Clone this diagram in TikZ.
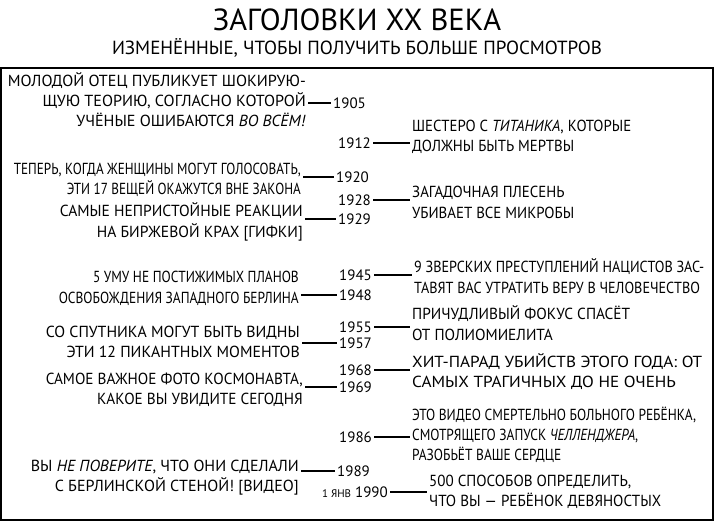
\documentclass[tikz,border=0pt]{standalone}
\usepackage{fontspec}
\usepackage{graphicx}
\setmainfont{PT Sans}
\usetikzlibrary{positioning,calc}
% sorok adott szelessegre, magassag marad
\newcommand{\sorok}[3]{\resizebox{#2pt}{\height}{\begin{tabular}{@{}#1@{}}#3\end{tabular}}}
\tikzset{
  bal/.style={anchor=east,inner sep=2pt,font=\fontsize{16}{20}\selectfont},
  jobb/.style={anchor=west,inner sep=2pt,font=\fontsize{16}{20}\selectfont},
  ev/.style={anchor=west,inner sep=2pt,font=\fontsize{15}{16}\selectfont},
  kot/.style={line width=1.1pt},
}

\begin{document}
\begin{tikzpicture}[x=1pt,y=-1pt]
  \useasboundingbox (0,0) rectangle (714,521);
  \draw[line width=2pt] (1,68) rectangle (713,520);
  % cim
  \node (cim) at (357,20) {\fontsize{30.5}{32}\selectfont ЗАГОЛОВКИ XX ВЕКА};
  \node (alcim) at (357,48) {\fontsize{19}{22}\selectfont ИЗМЕНЁННЫЕ, ЧТОБЫ ПОЛУЧИТЬ БОЛЬШЕ ПРОСМОТРОВ};
  % evszamok
  \node[ev] (e1905) at (331,103) {1905};
  \node[ev] (e1912) at (336,143) {1912};
  \node[ev] (e1920) at (334,177) {1920};
  \node[ev] (e1928) at (336,200) {1928};
  \node[ev] (e1929) at (336,219) {1929};
  \node[ev] (e1945) at (337,275) {1945};
  \node[ev] (e1948) at (337,295) {1948};
  \node[ev] (e1955) at (337,327) {1955};
  \node[ev] (e1957) at (337,343) {1957};
  \node[ev] (e1968) at (337,370) {1968};
  \node[ev] (e1969) at (337,387) {1969};
  \node[ev] (e1986) at (337,437) {1986};
  \node[ev] (e1989) at (335,471) {1989};
  \node[ev,anchor=east] (e1990) at (390,492) {{\fontsize{11}{12}\selectfont 1 ЯНВ} 1990};
  % bal oldal
  \node[bal] (b1905) at (308,103) {\sorok{r}{298}{МОЛОДОЙ ОТЕЦ ПУБЛИКУЕТ ШОКИРУЮ-\\ЩУЮ ТЕОРИЮ, СОГЛАСНО КОТОРОЙ\\УЧЁНЫЕ ОШИБАЮТСЯ \textit{ВО ВСЁМ!}}};
  \node[bal] (b1920) at (303,181) {\sorok{r}{287}{ТЕПЕРЬ, КОГДА ЖЕНЩИНЫ МОГУТ ГОЛОСОВАТЬ,\\ЭТИ 17 ВЕЩЕЙ ОКАЖУТСЯ ВНЕ ЗАКОНА}};
  \node[bal] (b1929) at (305,223) {\sorok{r}{243}{САМЫЕ НЕПРИСТОЙНЫЕ РЕАКЦИИ\\НА БИРЖЕВОЙ КРАХ [ГИФКИ]}};
  \node[bal] (b1948) at (301,289) {\sorok{r}{240}{5 УМУ НЕ ПОСТИЖИМЫХ ПЛАНОВ\\ОСВОБОЖДЕНИЯ ЗАПАДНОГО БЕРЛИНА}};
  \node[bal] (b1957) at (302,343) {\sorok{r}{254}{СО СПУТНИКА МОГУТ БЫТЬ ВИДНЫ\\ЭТИ 12 ПИКАНТНЫХ МОМЕНТОВ}};
  \node[bal] (b1969) at (305,390) {\sorok{r}{257}{САМОЕ ВАЖНОЕ ФОТО КОСМОНАВТА,\\КАКОЕ ВЫ УВИДИТЕ СЕГОДНЯ}};
  \node[bal] (b1989) at (301,477) {\sorok{r}{268}{ВЫ \textit{НЕ ПОВЕРИТЕ}, ЧТО ОНИ СДЕЛАЛИ\\С БЕРЛИНСКОЙ СТЕНОЙ! [ВИДЕО]}};
  % jobb oldal
  \node[jobb] (j1912) at (410,138) {\sorok{l}{219}{ШЕСТЕРО С \textit{ТИТАНИКА}, КОТОРЫЕ\\ДОЛЖНЫ БЫТЬ МЕРТВЫ}};
  \node[jobb] (j1928) at (410,204) {\sorok{l}{162}{ЗАГАДОЧНАЯ ПЛЕСЕНЬ\\УБИВАЕТ ВСЕ МИКРОБЫ}};
  \node[jobb] (j1945) at (412,279) {\sorok{l}{290}{9 ЗВЕРСКИХ ПРЕСТУПЛЕНИЙ НАЦИСТОВ ЗАС-\\ТАВЯТ ВАС УТРАТИТЬ ВЕРУ В ЧЕЛОВЕЧЕСТВО}};
  \node[jobb] (j1955) at (410,326) {\sorok{l}{218}{ПРИЧУДЛИВЫЙ ФОКУС СПАСЁТ\\ОТ ПОЛИОМИЕЛИТА}};
  \node[jobb] (j1968) at (410,373) {\sorok{l}{290}{ХИТ-ПАРАД УБИЙСТВ ЭТОГО ГОДА: ОТ\\САМЫХ ТРАГИЧНЫХ ДО НЕ ОЧЕНЬ}};
  \node[jobb] (j1986) at (410,436) {\sorok{l}{284}{ЭТО ВИДЕО СМЕРТЕЛЬНО БОЛЬНОГО РЕБЁНКА,\\СМОТРЯЩЕГО ЗАПУСК \textit{ЧЕЛЛЕНДЖЕРА},\\РАЗОБЬЁТ ВАШЕ СЕРДЦЕ}};
  \node[jobb] (j1990) at (427,492) {\sorok{l}{232}{500 СПОСОБОВ ОПРЕДЕЛИТЬ,\\ЧТО ВЫ — РЕБЁНОК ДЕВЯНОСТЫХ}};
  % vonalak
  \foreach \e in {1905,1920,1929,1948,1957,1969,1989}
    \draw[kot] (b\e.east |- e\e.west) -- (e\e.west);
  \foreach \e in {1912,1928,1945,1955,1968,1986,1990}
    \draw[kot] (e\e.east) -- (e\e.east -| j\e.west);
\end{tikzpicture}
\end{document}
